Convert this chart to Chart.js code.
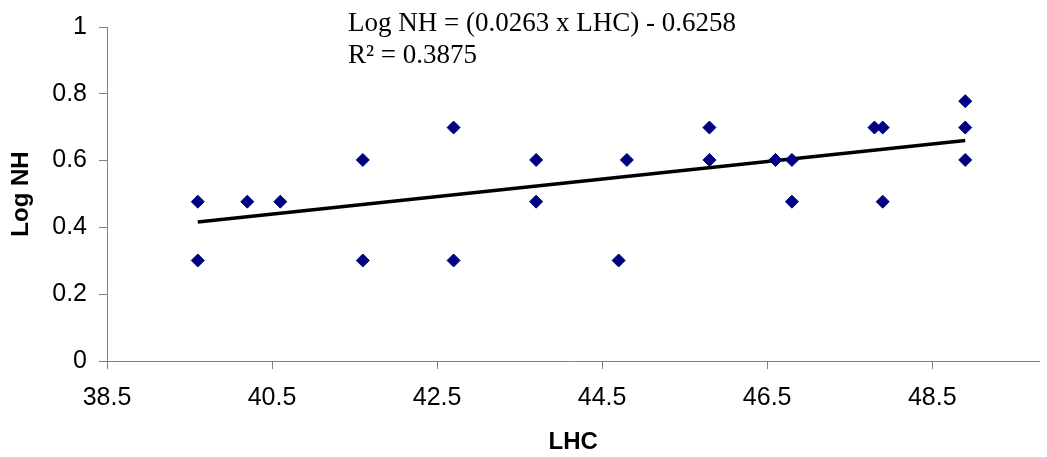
<!DOCTYPE html>
<html>
<head>
<meta charset="utf-8">
<script src="https://cdn.jsdelivr.net/npm/chart.js@4/dist/chart.umd.min.js"></script>
<style>
  body { margin: 0; background: #fff; }
</style>
</head>
<body>
<canvas id="lhcChart" width="1047" height="457"></canvas>
<script>
// values
const lhc = [39.6, 39.6, 40.2, 40.6, 41.6, 41.6, 42.7, 42.7, 43.7, 43.7, 44.7, 44.8,
  45.8, 45.8, 46.6, 46.8, 46.8, 47.8, 47.9, 47.9, 48.9, 48.9, 48.9];
const logNH = [0.477, 0.301, 0.477, 0.477, 0.602, 0.301, 0.699, 0.301, 0.602, 0.477, 0.301, 0.602,
  0.699, 0.602, 0.602, 0.602, 0.477, 0.699, 0.699, 0.477, 0.778, 0.699, 0.602];

// trend line end points
const trendX = [39.6, 48.9];
const trendY = [0.416, 0.660];

const xTicks = [38.5, 40.5, 42.5, 44.5, 46.5, 48.5];
const yTicks = [0, 0.2, 0.4, 0.6, 0.8, 1];

const eqLines = ["Log NH = (0.0263 x LHC) - 0.6258", "R\u00B2 = 0.3875"];

const sans = "'Liberation Sans', Arial, sans-serif";
const axisGrey = "#808080";

// writes the regression equation above the points
const equationText = {
  id: "equationText",
  afterDraw(chart) {
    const c = chart.ctx;
    c.save();
    c.fillStyle = "#000";
    c.font = "27px 'Liberation Serif', 'Times New Roman', serif";
    c.textAlign = "left";
    c.textBaseline = "alphabetic";
    c.fillText(eqLines[0], 348, 31);
    c.fillText(eqLines[1], 348, 63);
    c.restore();
  },
};

const ctx = document.getElementById("lhcChart").getContext("2d");
new Chart(ctx, {
  type: "scatter",
  data: {
    datasets: [
      {
        label: "Log NH",
        data: lhc.map((x, i) => ({ x: x, y: logNH[i] })),
        pointStyle: "rectRot",
        pointRadius: 6.5,
        pointHoverRadius: 6.5,
        backgroundColor: "#000080",
        borderColor: "#000080",
        borderWidth: 1,
      },
      {
        label: "trend",
        type: "line",
        data: trendX.map((x, i) => ({ x: x, y: trendY[i] })),
        borderColor: "#000",
        borderWidth: 3.5,
        pointRadius: 0,
        fill: false,
      },
    ],
  },
  options: {
    responsive: false,
    animation: false,
    layout: { padding: { top: 24, right: 0, left: 0, bottom: 0 } },
    plugins: {
      legend: { display: false },
      tooltip: { enabled: false },
    },
    scales: {
      x: {
        type: "linear",
        min: 38.5,
        max: 49.8,
        afterBuildTicks: (scale) => {
          scale.ticks = xTicks.map((v) => ({ value: v }));
        },
        afterFit: (scale) => {
          scale.height = 96;
        },
        grid: { drawOnChartArea: false, tickLength: 8, color: axisGrey },
        border: { color: axisGrey, width: 1 },
        ticks: {
          color: "#000",
          font: { family: sans, size: 25 },
          padding: 14,
          maxRotation: 0,
          callback: (v) => String(v),
        },
        title: {
          display: true,
          text: "LHC",
          color: "#000",
          font: { family: sans, size: 24, weight: "bold" },
          padding: { top: 0, bottom: 0 },
        },
      },
      y: {
        min: 0,
        max: 1,
        afterBuildTicks: (scale) => {
          scale.ticks = yTicks.map((v) => ({ value: v }));
        },
        afterFit: (scale) => {
          scale.width = 107;
        },
        grid: { drawOnChartArea: false, tickLength: 8, color: axisGrey },
        border: { color: axisGrey, width: 1 },
        ticks: {
          color: "#000",
          font: { family: sans, size: 25 },
          padding: 12,
          callback: (v) => String(v),
        },
        title: {
          display: true,
          text: "Log NH",
          color: "#000",
          font: { family: sans, size: 24, weight: "bold" },
          padding: { top: 7, bottom: 0 },
        },
      },
    },
  },
  plugins: [equationText],
});
</script>
</body>
</html>
